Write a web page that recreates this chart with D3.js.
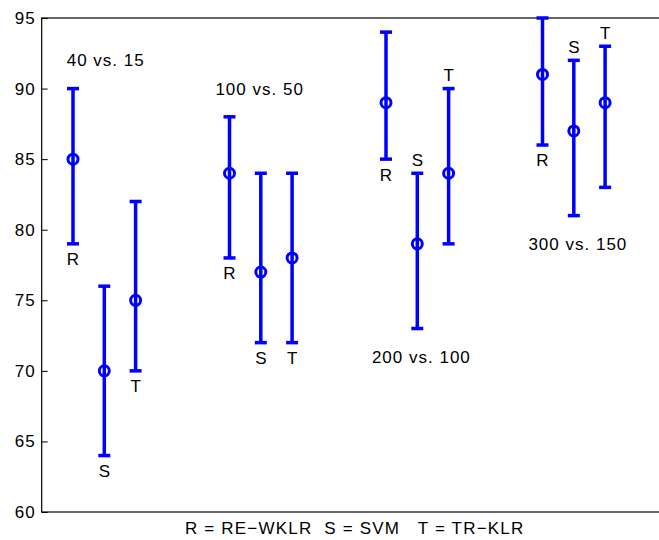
<!DOCTYPE html>
<html>
<head>
<meta charset="utf-8">
<script src="https://cdn.jsdelivr.net/npm/d3@7"></script>
<style>
  html, body { margin: 0; padding: 0; background: #fff; }
  svg { display: block; }
  text { font-family: "Liberation Sans", Arial, Helvetica, sans-serif; fill: #000; }
</style>
</head>
<body>
<svg id="chart" width="659" height="540"></svg>
<script>
// Error-bar comparison of three methods over four train/test settings
const xPos      = [1, 2, 3, 6, 7, 8, 11, 12, 13, 16, 17, 18];
const methods   = ["R", "S", "T", "R", "S", "T", "R", "S", "T", "R", "S", "T"];
const means     = [85, 70, 75, 84, 77, 78, 89, 79, 84, 91, 87, 89];
const lows      = [79, 64, 70, 78, 72, 72, 85, 73, 79, 86, 81, 83];
const highs     = [90, 76, 82, 88, 84, 84, 94, 84, 90, 95, 92, 93];
const labelSide = ["below", "below", "below", "below", "below", "below",
                   "below", "above", "above", "below", "above", "above"];

const groupNames  = ["40 vs. 15", "100 vs. 50", "200 vs. 100", "300 vs. 150"];
const groupLabelX = [0.8, 5.55, 10.55, 15.55];
const groupLabelY = [92, 90, 71, 79];

const yTicks = [60, 65, 70, 75, 80, 85, 90, 95];
const xLabel = "R = RE\u2212WKLR  S = SVM   T = TR\u2212KLR";

const svg = d3.select("#chart");
const plotLeft = 41.7, plotRight = 667.7, plotTop = 18, plotBottom = 512;

const x = d3.scaleLinear().domain([0, 20]).range([plotLeft, plotRight]);
const y = d3.scaleLinear().domain([60, 95]).range([plotBottom, plotTop]);

const blue = "#0000ff";
const fontSize = "17px";

// axes box (top + left + bottom; right side falls past the page edge)
svg.append("rect")
  .attr("x", plotLeft).attr("y", plotTop)
  .attr("width", plotRight - plotLeft).attr("height", plotBottom - plotTop)
  .attr("fill", "none").attr("stroke", "#000").attr("stroke-width", 1.2);

// y axis with inward ticks
const yAxis = d3.axisLeft(y).tickValues(yTicks).tickSizeInner(-6).tickSizeOuter(0).tickPadding(6);
const gy = svg.append("g").attr("transform", `translate(${plotLeft},0)`).call(yAxis);
gy.select(".domain").remove();
gy.attr("font-family", null).attr("font-size", null);
gy.selectAll(".tick line").attr("stroke", "#000").attr("stroke-width", 1);
gy.selectAll(".tick text")
  .attr("fill", "#000")
  .style("font-size", fontSize)
  .style("letter-spacing", "1px");

// error bars
const bars = svg.append("g");
const capHalf = 6;
xPos.forEach((xv, i) => {
  const cx = x(xv);
  bars.append("line")
    .attr("x1", cx).attr("x2", cx)
    .attr("y1", y(lows[i])).attr("y2", y(highs[i]))
    .attr("stroke", blue).attr("stroke-width", 3.5);
  [lows[i], highs[i]].forEach(v => {
    bars.append("line")
      .attr("x1", cx - capHalf).attr("x2", cx + capHalf)
      .attr("y1", y(v)).attr("y2", y(v))
      .attr("stroke", blue).attr("stroke-width", 3.5);
  });
  bars.append("circle")
    .attr("cx", cx).attr("cy", y(means[i])).attr("r", 5)
    .attr("fill", "none").attr("stroke", blue).attr("stroke-width", 3);
});

// method letters beside each bar
const letters = svg.append("g");
xPos.forEach((xv, i) => {
  const below = labelSide[i] === "below";
  const yv = below ? lows[i] - 1.08 : highs[i] + 0.97;
  letters.append("text")
    .attr("x", x(xv)).attr("y", y(yv))
    .attr("dy", "0.36em")
    .attr("text-anchor", "middle")
    .style("font-size", fontSize)
    .text(methods[i]);
});

// group titles
groupNames.forEach((g, i) => {
  svg.append("text")
    .attr("x", x(groupLabelX[i])).attr("y", y(groupLabelY[i]))
    .attr("dy", "0.36em")
    .style("font-size", fontSize)
    .style("letter-spacing", "1px")
    .text(g);
});

// legend line under the axis
svg.append("text")
  .attr("x", (plotLeft + plotRight) / 2).attr("y", 528)
  .attr("dy", "0.36em")
  .attr("text-anchor", "middle")
  .style("font-size", fontSize)
  .style("letter-spacing", "1.2px")
  .style("white-space", "pre")
  .text(xLabel);
</script>
</body>
</html>
